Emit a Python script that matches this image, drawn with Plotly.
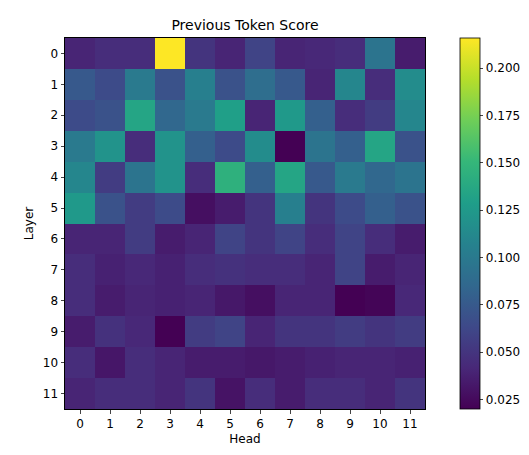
import plotly.graph_objects as go

heads = list(range(12))
layers = list(range(12))

row0 = [0.040, 0.045, 0.045, 0.216, 0.050, 0.040, 0.060, 0.040, 0.042, 0.045, 0.095, 0.035]
row1 = [0.075, 0.065, 0.100, 0.070, 0.105, 0.070, 0.090, 0.075, 0.040, 0.110, 0.045, 0.115]
row2 = [0.065, 0.070, 0.135, 0.085, 0.100, 0.130, 0.040, 0.125, 0.080, 0.045, 0.055, 0.110]
row3 = [0.100, 0.120, 0.045, 0.120, 0.080, 0.065, 0.115, 0.020, 0.095, 0.080, 0.135, 0.070]
row4 = [0.110, 0.055, 0.095, 0.120, 0.045, 0.145, 0.080, 0.135, 0.075, 0.100, 0.085, 0.095]
row5 = [0.125, 0.070, 0.055, 0.065, 0.028, 0.035, 0.050, 0.105, 0.050, 0.065, 0.080, 0.070]
row6 = [0.040, 0.040, 0.055, 0.035, 0.040, 0.060, 0.050, 0.060, 0.045, 0.060, 0.045, 0.035]
row7 = [0.045, 0.038, 0.042, 0.038, 0.045, 0.048, 0.045, 0.045, 0.040, 0.060, 0.035, 0.040]
row8 = [0.045, 0.035, 0.040, 0.038, 0.040, 0.033, 0.028, 0.040, 0.040, 0.020, 0.022, 0.042]
row9 = [0.035, 0.048, 0.042, 0.020, 0.055, 0.060, 0.040, 0.050, 0.050, 0.055, 0.050, 0.055]
row10 = [0.045, 0.032, 0.045, 0.040, 0.035, 0.035, 0.033, 0.035, 0.038, 0.040, 0.040, 0.038]
row11 = [0.040, 0.045, 0.045, 0.040, 0.050, 0.030, 0.045, 0.035, 0.045, 0.045, 0.040, 0.050]
scores = [row0, row1, row2, row3, row4, row5, row6, row7, row8, row9, row10, row11]

cbar_ticks = [0.025, 0.050, 0.075, 0.100, 0.125, 0.150, 0.175, 0.200]

fig = go.Figure(go.Heatmap(
    z=scores, x=heads, y=layers, colorscale="Viridis",
    colorbar=dict(x=1.097, xanchor="left", y=0, yanchor="bottom", len=1,
                  ypad=0, xpad=0, thickness=20, outlinewidth=0.8, outlinecolor="black",
                  tickvals=cbar_ticks, ticktext=[f"{t:.3f}" for t in cbar_ticks],
                  ticks="outside", ticklen=3.5, tickfont=dict(size=12)),
))

fig.update_layout(
    width=529, height=455,
    margin=dict(l=57, r=112, t=30, b=54),
    paper_bgcolor="white", plot_bgcolor="white",
    font=dict(family="DejaVu Sans", size=12, color="black"),
    title=dict(text="Previous Token Score", x=0.448, xanchor="center",
               y=1 - 17 / 455, yanchor="middle", font=dict(size=14)),
    xaxis=dict(title=dict(text="Head", standoff=4, font=dict(size=12)), tickmode="array",
               tickvals=heads, ticks="outside", ticklen=3.5, showline=True, linecolor="black",
               mirror=True, showgrid=False, zeroline=False),
    yaxis=dict(title=dict(text="Layer", standoff=6, font=dict(size=12)), tickmode="array",
               tickvals=layers, autorange="reversed", ticks="outside", ticklen=3.5,
               showline=True, linecolor="black", mirror=True, showgrid=False, zeroline=False),
)

fig.write_html("out.html")
